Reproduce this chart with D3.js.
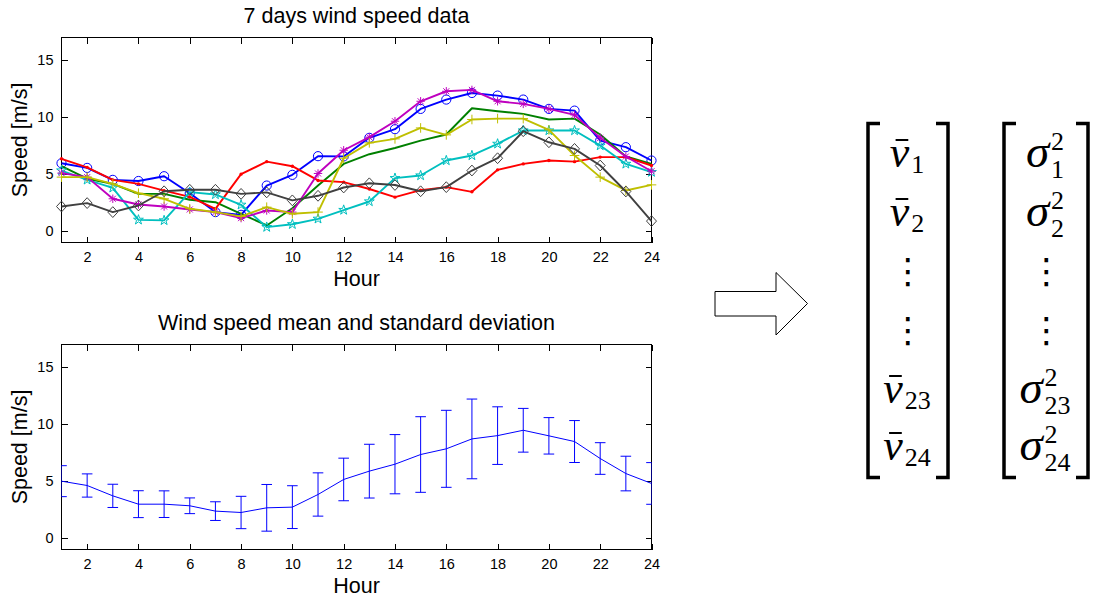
<!DOCTYPE html>
<html>
<head>
<meta charset="utf-8">
<script src="https://cdn.jsdelivr.net/npm/d3@7"></script>
<style>
  body { margin: 0; background: #fff; }
  svg text { font-family: "Liberation Sans", Arial, sans-serif; fill: #000; }
  svg text.math { font-family: "Liberation Serif", "Times New Roman", serif; }
</style>
</head>
<body>
<svg id="chart" width="1094" height="598"></svg>
<script>
'use strict';

// x categories and ticks
const hours  = [1, 2, 3, 4, 5, 6, 7, 8, 9, 10, 11, 12, 13, 14, 15, 16, 17, 18, 19, 20, 21, 22, 23, 24];
const xTicks = [2, 4, 6, 8, 10, 12, 14, 16, 18, 20, 22, 24];
const yTicks = [0, 5, 10, 15];

// 7 days of hourly wind speed [m/s]
const dayBlue    = [5.96, 5.55, 4.5, 4.4, 4.82, 3.33, 1.67, 1.43, 4.0, 4.94, 6.58, 6.56, 8.19, 8.95, 10.73, 11.55, 12.13, 11.9, 11.55, 10.73, 10.58, 7.95, 7.37, 6.2];
const dayGreen   = [5.7, 4.6, 4.15, 3.27, 3.27, 2.75, 2.54, 1.52, 0.5, 2.0, 4.0, 5.9, 6.75, 7.3, 7.95, 8.48, 10.79, 10.53, 10.29, 9.8, 9.88, 8.48, 6.55, 5.9];
const dayRed     = [6.35, 5.6, 4.5, 4.15, 3.55, 3.0, 1.95, 5.0, 6.1, 5.7, 4.45, 4.3, 3.7, 2.98, 3.6, 3.86, 3.45, 5.38, 5.9, 6.2, 6.1, 6.5, 6.5, 5.76];
const dayCyan    = [5.32, 4.5, 3.8, 0.99, 0.94, 3.42, 3.22, 2.31, 0.35, 0.6, 1.08, 1.85, 2.6, 4.65, 4.88, 6.2, 6.64, 7.66, 8.83, 8.83, 8.83, 7.51, 5.9, 5.18];
const dayMagenta = [5.09, 4.74, 2.84, 2.34, 2.16, 1.9, 1.67, 1.14, 1.81, 1.67, 5.06, 7.1, 8.25, 9.65, 11.4, 12.28, 12.4, 11.4, 11.17, 10.73, 10.2, 8.19, 6.55, 5.26];
const dayYellow  = [4.74, 4.74, 4.15, 3.33, 2.84, 1.96, 1.67, 1.29, 2.1, 1.52, 1.67, 6.4, 7.75, 8.1, 9.06, 8.45, 9.8, 9.88, 9.88, 8.89, 6.64, 4.74, 3.57, 4.06];
const dayGray    = [2.16, 2.46, 1.67, 2.25, 3.5, 3.63, 3.63, 3.27, 3.4, 2.7, 3.1, 3.83, 4.2, 4.05, 3.5, 3.86, 5.32, 6.4, 8.77, 7.8, 7.22, 5.76, 3.48, 0.88];

// mean and standard deviation per hour
const meanSpeed = [5.0, 4.62, 3.71, 2.98, 2.98, 2.84, 2.37, 2.25, 2.66, 2.72, 3.83, 5.15, 5.88, 6.49, 7.34, 7.84, 8.71, 9.0, 9.47, 8.98, 8.48, 6.99, 5.67, 4.8];
const stdSpeed  = [1.36, 1.02, 1.02, 1.18, 1.17, 0.69, 0.82, 1.42, 2.05, 1.88, 1.9, 1.87, 2.36, 2.6, 3.32, 3.38, 3.5, 2.53, 1.92, 1.6, 1.84, 1.39, 1.52, 1.83];

// vector entries on the right
const rowSubs = ['1', '2', null, null, '23', '24'];

// plot order and style of the days
const days = [
  { values: dayBlue,    color: '#0000ff', marker: 'circle' },
  { values: dayGreen,   color: '#008000', marker: null },
  { values: dayRed,     color: '#ff0000', marker: 'dot' },
  { values: dayCyan,    color: '#00bfbf', marker: 'pentagram' },
  { values: dayMagenta, color: '#bf00bf', marker: 'asterisk' },
  { values: dayYellow,  color: '#bfbf00', marker: 'plus' },
  { values: dayGray,    color: '#404040', marker: 'diamond' }
];

const svg = d3.select('#chart');

// scales
const x    = d3.scaleLinear().domain([1, 24]).range([61.5, 651.5]);
const yTop = d3.scaleLinear().domain([-1, 17]).range([242.5, 37.5]);
const yBot = d3.scaleLinear().domain([-1, 17]).range([549.5, 344.5]);

// marker shapes
const markers = {
  circle:    { d: 'M4.6,0A4.6,4.6 0 1,1 -4.6,0A4.6,4.6 0 1,1 4.6,0Z', fill: false },
  dot:       { d: d3.symbol(d3.symbolCircle, Math.PI * 1.7 * 1.7)(), fill: true },
  pentagram: { d: d3.symbol(d3.symbolStar, 30)(), fill: false },
  asterisk:  { d: 'M-4.2,0H4.2M0,-4.2V4.2M-3,-3L3,3M-3,3L3,-3', fill: false },
  plus:      { d: 'M-4.8,0H4.8M0,-4.8V4.8', fill: false },
  diamond:   { d: 'M0,-5.4L5,0L0,5.4L-5,0Z', fill: false }
};

// axes box with inward ticks, title and labels
function drawFrame(y, title, id) {
  const [yb, yt] = y.range();
  const g = svg.append('g');

  g.append('clipPath').attr('id', id)
    .append('rect')
      .attr('x', x(1)).attr('y', yt)
      .attr('width', x(24) - x(1)).attr('height', yb - yt);

  const style = (a) => {
    a.select('.domain').remove();
    a.attr('font-size', null).attr('font-family', null)
      .style('shape-rendering', 'crispEdges');
    a.selectAll('text').style('font-size', '14.5px');
  };

  g.append('g')
      .attr('transform', `translate(0,${yb})`)
      .call(d3.axisBottom(x).tickValues(xTicks).tickSizeInner(-6).tickSizeOuter(0).tickPadding(9.5))
      .call(style);

  g.append('g')
      .attr('transform', `translate(0,${yt})`)
      .call(d3.axisTop(x).tickValues(xTicks).tickSizeInner(-6).tickSizeOuter(0).tickFormat(''))
      .call(style);

  g.append('g')
      .attr('transform', `translate(${x(1)},0)`)
      .call(d3.axisLeft(y).tickValues(yTicks).tickSizeInner(-6).tickSizeOuter(0).tickPadding(8))
      .call(style);

  g.append('g')
      .attr('transform', `translate(${x(24)},0)`)
      .call(d3.axisRight(y).tickValues(yTicks).tickSizeInner(-6).tickSizeOuter(0).tickFormat(''))
      .call(style);

  g.append('rect')
      .attr('x', x(1)).attr('y', yt)
      .attr('width', x(24) - x(1)).attr('height', yb - yt)
      .attr('fill', 'none').attr('stroke', '#000')
      .style('shape-rendering', 'crispEdges');

  const cx = (x(1) + x(24)) / 2;

  g.append('text')
      .attr('x', cx).attr('y', yt - 15)
      .attr('text-anchor', 'middle')
      .style('font-size', '21.5px')
      .text(title);

  g.append('text')
      .attr('x', cx).attr('y', yb + 43)
      .attr('text-anchor', 'middle')
      .style('font-size', '21.5px')
      .text('Hour');

  g.append('text')
      .attr('transform', `translate(27,${(yb + yt) / 2}) rotate(-90)`)
      .attr('text-anchor', 'middle')
      .style('font-size', '21.5px')
      .text('Speed [m/s]');

  return g;
}

// ---- top: 7 days ----
const topPanel = drawFrame(yTop, '7 days wind speed data', 'clipTop');

const line = (y) => d3.line()
  .x((d, i) => x(hours[i]))
  .y((d) => y(d));

days.forEach((day) => {
  const g = topPanel.append('g');

  g.append('path')
      .datum(day.values)
      .attr('d', line(yTop))
      .attr('fill', 'none')
      .attr('stroke', day.color)
      .attr('stroke-width', 1.9)
      .attr('stroke-linejoin', 'round');

  if (!day.marker) return;
  const m = markers[day.marker];

  g.selectAll('path.marker')
      .data(day.values)
    .enter().append('path')
      .attr('class', 'marker')
      .attr('transform', (d, i) => `translate(${x(hours[i])},${yTop(d)})`)
      .attr('d', m.d)
      .attr('fill', m.fill ? day.color : 'none')
      .attr('stroke', day.color)
      .attr('stroke-width', m.fill ? 0 : 1);
});

// ---- bottom: mean and std ----
const botPanel = drawFrame(yBot, 'Wind speed mean and standard deviation', 'clipBot');
const bars = botPanel.append('g').attr('clip-path', 'url(#clipBot)');

bars.append('path')
    .datum(meanSpeed)
    .attr('d', line(yBot))
    .attr('fill', 'none')
    .attr('stroke', '#0000ff')
    .attr('stroke-width', 1);

const cap = 5.3;
bars.selectAll('.eb')
    .data(meanSpeed)
  .enter().append('path')
    .attr('class', 'eb')
    .attr('d', (d, i) => {
      const xi = x(hours[i]);
      const lo = yBot(d - stdSpeed[i]);
      const hi = yBot(d + stdSpeed[i]);
      return `M${xi},${lo}V${hi}M${xi - cap},${hi}H${xi + cap}M${xi - cap},${lo}H${xi + cap}`;
    })
    .attr('fill', 'none')
    .attr('stroke', '#0000ff')
    .attr('stroke-width', 1);

// ---- arrow ----
svg.append('path')
    .attr('d', 'M715,291.5H776V272.5L807.5,303.5L776,335V316H715Z')
    .attr('fill', '#fff')
    .attr('stroke', '#000')
    .attr('stroke-width', 1);

// ---- vectors ----
const rowY = [167, 226, 284, 343, 403, 460];

function bracket(xv, xs, yt, yb) {
  svg.append('path')
      .attr('d', `M${xs},${yt}H${xv}V${yb}H${xs}`)
      .attr('fill', 'none')
      .attr('stroke', '#000')
      .attr('stroke-width', 3.5)
      .attr('stroke-linejoin', 'miter');
}

bracket(868, 880, 123.5, 477.5);
bracket(948, 936, 123.5, 477.5);
bracket(1004, 1016, 123.5, 477.5);
bracket(1088, 1076, 123.5, 477.5);

function entry(cx, y, base, size, sub, sup, bar) {
  const g = svg.append('g');
  const b = g.append('text')
      .attr('class', 'math')
      .attr('y', y)
      .style('font-style', 'italic')
      .style('font-size', size + 'px')
      .text(base);
  const bw = b.node().getComputedTextLength();

  const scripts = [];
  if (sup) scripts.push(g.append('text').attr('class', 'math').attr('y', y - 17).text(sup));
  if (sub) scripts.push(g.append('text').attr('class', 'math').attr('y', y + (sup ? 11 : 6)).text(sub));
  scripts.forEach((s) => s.style('font-size', '26px'));
  const sw = d3.max(scripts, (s) => s.node().getComputedTextLength()) || 0;

  const gap = 2;
  const left = cx - (bw + gap + sw) / 2;
  b.attr('x', left);
  scripts.forEach((s) => s.attr('x', left + bw + gap));

  if (bar) {
    g.append('line')
        .attr('x1', left + bw * 0.3).attr('x2', left + bw * 0.95)
        .attr('y1', y - 27).attr('y2', y - 27)
        .attr('stroke', '#000')
        .attr('stroke-width', 2);
  }
}

function vdots(cx, y) {
  svg.append('text')
      .attr('x', cx).attr('y', y)
      .attr('text-anchor', 'middle')
      .style('font-family', '"DejaVu Sans"')
      .style('font-size', '35px')
      .text('\u22EE');
}

rowSubs.forEach((s, i) => {
  if (s === null) {
    vdots(908, rowY[i] - 1);
    vdots(1046.5, rowY[i] - 1);
  } else {
    entry(907, rowY[i], 'v', 44, s, null, true);
    entry(1045, rowY[i], '\u03C3', 47, s, '2', false);
  }
});
</script>
</body>
</html>
